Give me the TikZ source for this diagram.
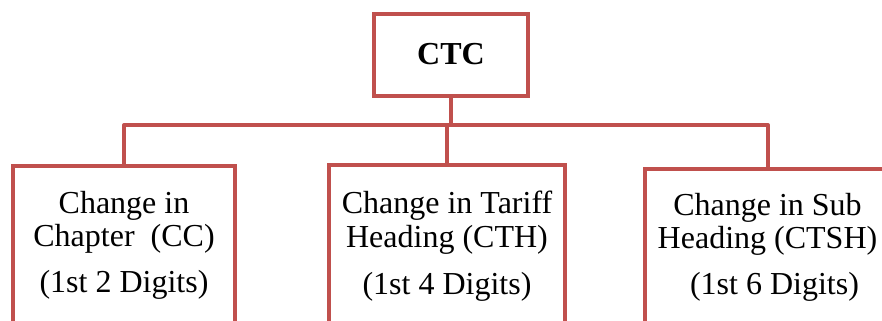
\documentclass[tikz,border=0pt]{standalone}
\usepackage{fontspec}
\setmainfont{Liberation Serif}
\newfontfamily\tnr{Liberation Serif}
\begin{document}
\begin{tikzpicture}[x=1bp,y=-1bp,
  redline/.style={draw=boxred,line width=4bp},
  box/.style={redline,rectangle,fill=white,outer sep=0pt,inner sep=0pt},
  txt/.style={anchor=base,inner sep=0pt,font=\tnr\fontsize{32bp}{34bp}\selectfont},
  conn/.style={redline,line join=round}]
\definecolor{boxred}{HTML}{C0504D}
\useasboundingbox (0,0) rectangle (882,320);
\begin{scope}
\clip (0,0) rectangle (882,320);
% boxes
\node[box,minimum width=154bp,minimum height=82bp] (ctc) at (451,55) {};
\node[box,minimum width=222bp,minimum height=180bp] (lbox) at (124,256) {};
\node[box,minimum width=236bp,minimum height=180bp] (mbox) at (447,255) {};
\node[box,minimum width=255bp,minimum height=180bp] (rbox) at (772.5,259) {};
% bus
\coordinate (jL) at (124,125);
\coordinate (jR) at (768,125);
\coordinate (rtop) at (768,169);
\draw[conn] (ctc.south) -- (ctc.south |- jL);
\draw[conn] (lbox.north) -- (jL) -- (jR) -- (rtop);
\draw[conn] (mbox.north) -- (mbox.north |- jL);
% texts
\node[txt,font=\tnr\fontsize{32bp}{34bp}\selectfont\bfseries] (tctc) at (451,64) {CTC};
\node[txt] (l1) at (124,213) {Change in};
\node[txt] (l2) at (124,246) {Chapter\ \ (CC)};
\node[txt] (l3) at (124,292) {(1st 2 Digits)};
\node[txt] (m1) at (447,213) {Change in Tariff};
\node[txt] (m2) at (447,247) {Heading (CTH)};
\node[txt] (m3) at (447,294) {(1st 4 Digits)};
\node[txt] (r1) at (767.5,215) {Change in Sub};
\node[txt] (r2) at (767.5,248) {Heading (CTSH)};
\node[txt] (r3) at (774.5,294) {(1st 6 Digits)};
\end{scope}
\end{tikzpicture}
\end{document}
